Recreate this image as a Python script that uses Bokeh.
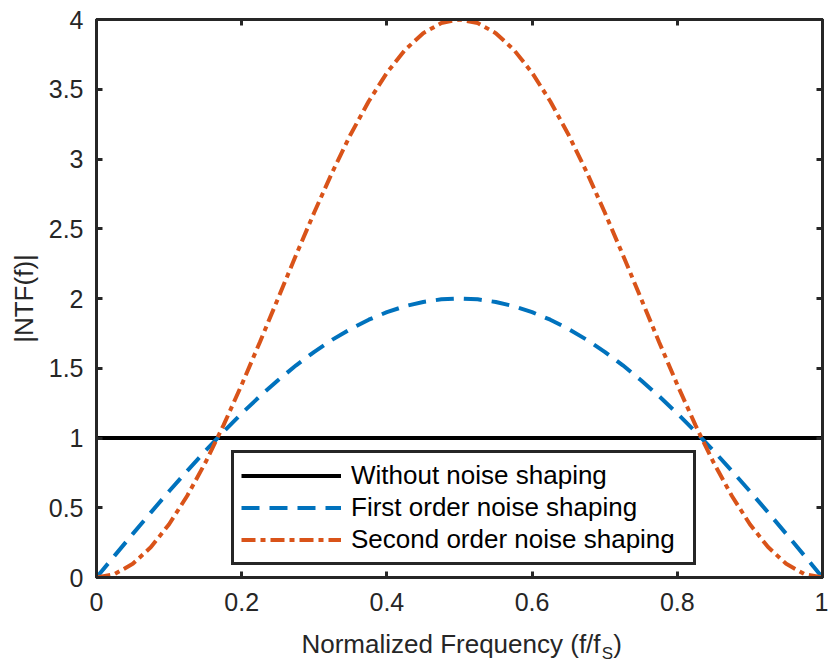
from bokeh.plotting import figure
from bokeh.models import (Range1d, FixedTicker, LinearAxis, Legend,
                          LegendItem, CustomJSTickFormatter)
from bokeh.embed import file_html
from bokeh.resources import INLINE

# ---- data ----
freq = [0.0, 0.025, 0.05, 0.075, 0.1, 0.125, 0.15, 0.175, 0.2, 0.225, 0.25,
        0.275, 0.3, 0.325, 0.35, 0.375, 0.4, 0.425, 0.45, 0.475, 0.5,
        0.525, 0.55, 0.575, 0.6, 0.625, 0.65, 0.675, 0.7, 0.725, 0.75,
        0.775, 0.8, 0.825, 0.85, 0.875, 0.9, 0.925, 0.95, 0.975, 1.0]
no_shaping = [1.0] * 41
first_order = [0.0, 0.157, 0.313, 0.467, 0.618, 0.765, 0.908, 1.045, 1.176, 1.299, 1.414,
               1.521, 1.618, 1.705, 1.782, 1.848, 1.902, 1.945, 1.975, 1.994, 2.0,
               1.994, 1.975, 1.945, 1.902, 1.848, 1.782, 1.705, 1.618, 1.521, 1.414,
               1.299, 1.176, 1.045, 0.908, 0.765, 0.618, 0.467, 0.313, 0.157, 0.0]
second_order = [0.0, 0.0246, 0.098, 0.218, 0.382, 0.586, 0.824, 1.092, 1.382, 1.687, 2.0,
                2.313, 2.618, 2.908, 3.176, 3.414, 3.618, 3.782, 3.902, 3.975, 4.0,
                3.975, 3.902, 3.782, 3.618, 3.414, 3.176, 2.908, 2.618, 2.313, 2.0,
                1.687, 1.382, 1.092, 0.824, 0.586, 0.382, 0.218, 0.098, 0.0246, 0.0]
series_names = ["Without noise shaping", "First order noise shaping", "Second order noise shaping"]
x_ticks = [0, 0.2, 0.4, 0.6, 0.8, 1]
x_tick_labels = ["0", "0.2", "0.4", "0.6", "0.8", "1"]
y_ticks = [0, 0.5, 1, 1.5, 2, 2.5, 3, 3.5, 4]
y_tick_labels = ["0", "0.5", "1", "1.5", "2", "2.5", "3", "3.5", "4"]
x_title_parts = ["Normalized Frequency (f/f", "S", ")"]
y_title = "|NTF(f)|"

FONT = "Liberation Sans"
AXC = "#262626"

p = figure(frame_width=726, frame_height=558, output_backend="svg", toolbar_location=None,
           x_range=Range1d(0, 1), y_range=Range1d(0, 4),
           min_border_left=96, min_border_right=6, min_border_top=19, min_border_bottom=85)
p.background_fill_color = "white"
p.border_fill_color = "white"
p.grid.visible = False
p.outline_line_color = AXC
p.outline_line_width = 3


def style_axis(ax, ticks, labels, show_labels):
    ax.ticker = FixedTicker(ticks=ticks)
    ax.axis_line_color = AXC
    ax.axis_line_width = 3
    ax.major_tick_in = 6
    ax.major_tick_out = 0
    ax.major_tick_line_width = 3
    ax.major_tick_line_color = AXC
    ax.minor_tick_line_color = None
    if show_labels:
        ax.major_label_overrides = {t: l for t, l in zip(ticks, labels)}
        ax.major_label_text_font = FONT
        ax.major_label_text_font_size = "25px"
        ax.major_label_text_color = AXC
    else:
        ax.formatter = CustomJSTickFormatter(code="return ''")
        ax.major_label_text_font_size = "1px"
        ax.major_label_standoff = 0


xa = p.xaxis[0]
ya = p.yaxis[0]
style_axis(xa, x_ticks, x_tick_labels, True)
style_axis(ya, y_ticks, y_tick_labels, True)
xa.major_label_standoff = 15
ya.major_label_standoff = 13
ya.axis_label = y_title
ya.axis_label_text_font = FONT
ya.axis_label_text_font_size = "26px"
ya.axis_label_text_font_style = "normal"
ya.axis_label_text_color = AXC
ya.axis_label_standoff = 7

top = LinearAxis()
right = LinearAxis()
style_axis(top, x_ticks, x_tick_labels, False)
style_axis(right, y_ticks, y_tick_labels, False)
p.add_layout(top, "above")
p.add_layout(right, "right")


# x-axis title (with subscript) drawn as tick labels of two invisible extra axes
def text_axis(positions, texts, size, standoff):
    ax = LinearAxis(ticker=FixedTicker(ticks=positions))
    ax.major_label_overrides = {t: l for t, l in zip(positions, texts)}
    ax.axis_line_color = None
    ax.major_tick_line_color = None
    ax.minor_tick_line_color = None
    ax.major_tick_in = 0
    ax.major_tick_out = 0
    ax.major_label_text_font = FONT
    ax.major_label_text_font_size = size
    ax.major_label_text_color = AXC
    ax.major_label_standoff = standoff
    return ax


# subscript panel first (below tick labels), main title pulled back up over it
title_sub = text_axis([0.7039], [x_title_parts[1]], "17px", 30)
title_main = text_axis([0.4883, 0.7176], [x_title_parts[0], x_title_parts[2]], "26px", -37)
p.add_layout(title_sub, "below")
p.add_layout(title_main, "below")

r0 = p.line(freq, no_shaping, line_color="black", line_width=4)
r1 = p.line(freq, first_order, line_color="#0072BD", line_width=4, line_dash="18 10")
r2 = p.line(freq, second_order, line_color="#D95319", line_width=4, line_dash="14 5 5 5")

legend = Legend(items=[LegendItem(label=series_names[0], renderers=[r0]),
                       LegendItem(label=series_names[1], renderers=[r1]),
                       LegendItem(label=series_names[2], renderers=[r2])],
                location=(135, 12))
legend.label_text_font = FONT
legend.label_text_font_size = "26px"
legend.label_text_color = "black"
legend.glyph_width = 100
legend.glyph_height = 29
legend.label_height = 29
legend.label_width = 335
legend.label_standoff = 10
legend.spacing = 1
legend.padding = 7
legend.margin = 0
legend.border_line_color = AXC
legend.border_line_alpha = 1
legend.border_line_width = 3
legend.background_fill_color = "white"
legend.background_fill_alpha = 1
p.add_layout(legend, "center")

open("out.html", "w").write(file_html(p, INLINE))
